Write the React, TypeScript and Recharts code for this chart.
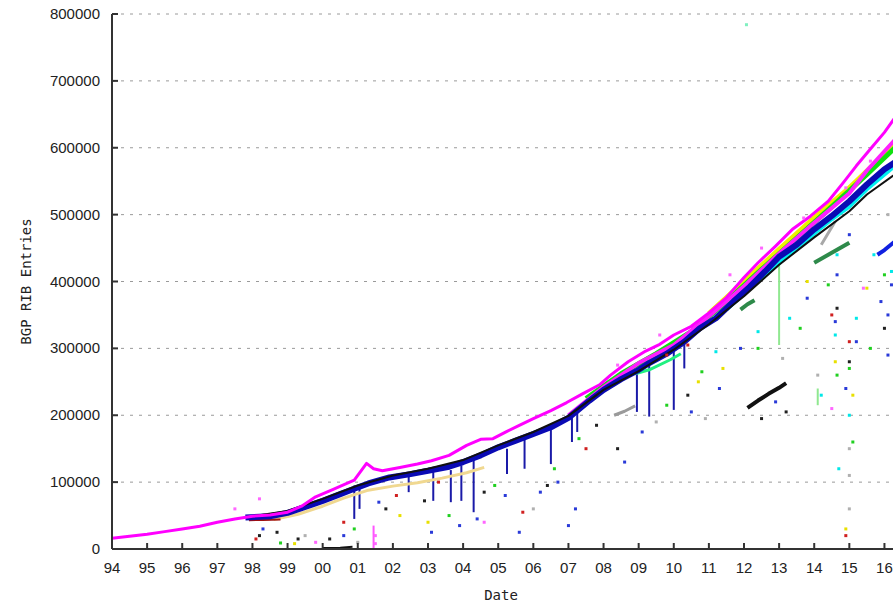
import { ComposedChart, Line, Scatter, XAxis, YAxis, CartesianGrid } from "recharts";

type P = [number, number];
type Dip = [number, number, number];

const yearTicks = [94, 95, 96, 97, 98, 99, 100, 101, 102, 103, 104, 105, 106, 107, 108, 109, 110, 111, 112, 113, 114, 115, 116];
const valueTicks = [0, 100000, 200000, 300000, 400000, 500000, 600000, 700000, 800000];

// main peer bands
const magentaUpper: P[] = [
  [94.0, 16000], [94.5, 19000], [95.0, 22000], [95.5, 26000], [96.0, 30000], [96.5, 34000],
  [97.0, 40000], [97.5, 45000], [98.0, 49000], [98.5, 51000], [99.0, 55000], [99.4, 64000],
  [99.8, 78000], [100.3, 89000], [100.9, 103000], [101.25, 128000], [101.45, 120000], [101.7, 117000],
  [102.2, 122000], [102.7, 127000], [103.1, 132000], [103.6, 140000], [104.1, 155000], [104.5, 164000],
  [104.85, 165000], [105.25, 176000], [105.6, 185000], [106.0, 195000], [106.5, 207000], [106.95, 219000],
  [107.4, 232000], [107.9, 246000], [108.2, 260000], [108.7, 280000], [109.2, 296000], [109.6, 306000],
  [110.0, 320000], [110.5, 333000], [111.0, 353000], [111.5, 376000], [112.0, 406000], [112.4, 428000],
  [112.9, 453000], [113.4, 479000], [113.9, 498000], [114.4, 520000], [114.8, 546000], [115.2, 573000],
  [115.6, 598000], [116.0, 623000], [116.3, 645000],
];
const magentaLower: P[] = [
  [107.0, 200000], [108.0, 242000], [109.0, 278000], [110.0, 305000], [111.0, 348000], [112.0, 393000],
  [113.0, 442000], [114.0, 488000], [115.0, 532000], [115.5, 566000], [116.3, 612000],
];
const blueBand: P[] = [
  [97.8, 47000], [98.5, 49000], [99.0, 54000], [99.4, 61000], [100.0, 72000], [100.5, 82000],
  [100.9, 90000], [101.3, 98000], [101.9, 107000], [102.5, 112000], [103.0, 117000], [103.6, 123000],
  [104.0, 130000], [104.5, 140000], [105.0, 152000], [105.5, 162000], [106.0, 172000], [106.5, 182000],
  [107.0, 196000], [107.6, 222000], [108.0, 238000], [108.5, 254000], [109.0, 268000], [109.3, 278000],
  [109.8, 292000], [110.3, 310000], [110.74, 330000], [111.2, 345000], [111.7, 370000], [112.16, 392000],
  [112.6, 415000], [113.0, 437000], [113.5, 455000], [114.0, 478000], [114.5, 498000], [115.0, 520000],
  [115.5, 545000], [116.0, 568000], [116.5, 585000],
];
const blackBand: P[] = [
  [98.0, 49000], [99.0, 57000], [100.0, 75000], [101.0, 95000], [102.0, 110000], [103.0, 120000],
  [104.0, 133000], [105.0, 155000], [106.0, 175000], [107.0, 199000], [108.0, 238000], [109.0, 266000],
  [110.0, 298000], [111.0, 336000], [112.0, 378000], [113.0, 425000], [114.0, 466000], [115.0, 505000],
  [115.5, 530000], [116.5, 568000],
];
const greenBand: P[] = [
  [107.5, 225000], [108.5, 262000], [109.5, 292000], [110.5, 325000], [111.5, 370000], [112.5, 418000],
  [113.5, 465000], [114.5, 512000], [115.5, 560000], [116.3, 600000],
];
const yellowBand: P[] = [
  [111.0, 352000], [112.0, 400000], [113.0, 448000], [114.0, 495000], [115.0, 540000], [116.3, 605000],
];
const cyanBand: P[] = [
  [111.5, 358000], [112.5, 405000], [113.5, 450000], [114.5, 493000], [115.0, 512000], [115.5, 538000],
  [116.3, 573000],
];
const tanBand: P[] = [
  [98.6, 44000], [99.3, 52000], [100.0, 64000], [100.6, 76000], [101.3, 88000], [102.0, 94000],
  [102.7, 99000], [103.4, 106000], [104.1, 114000], [104.6, 122000],
];

// short odd segments
const darkRedSeg: P[] = [[97.9, 43000], [98.3, 43500], [98.8, 44000]];
const lowBlackSeg: P[] = [[100.0, 1500], [100.5, 2000], [100.85, 3500]];
const graySeg: P[] = [[108.3, 200000], [108.6, 206000], [108.9, 214000]];
const springSeg: P[] = [[108.9, 262000], [109.3, 268000], [109.9, 283000], [110.2, 292000]];
const blackSeg: P[] = [[112.1, 211000], [112.4, 222000], [112.7, 232000], [113.0, 241000], [113.2, 248000]];
const darkGreenSeg1: P[] = [[111.9, 358000], [112.1, 366000], [112.3, 372000]];
const darkGreenSeg2: P[] = [[114.0, 428000], [114.4, 440000], [114.8, 452000], [115.0, 458000]];
const graySeg2: P[] = [[114.2, 455000], [114.35, 468000], [114.6, 490000]];
const blueSeg: P[] = [[115.8, 440000], [116.0, 447000], [116.3, 460000]];

// vertical drop-outs [year, top, bottom]
const dipsBlue: Dip[] = [
  [100.9, 95000, 45000], [101.05, 92000, 60000], [102.45, 110000, 85000], [103.15, 115000, 72000],
  [103.65, 118000, 70000], [103.95, 125000, 72000], [104.3, 135000, 55000], [105.25, 150000, 112000],
  [105.75, 165000, 120000], [106.5, 180000, 127000], [107.1, 196000, 160000], [107.25, 205000, 175000],
  [108.95, 262000, 205000], [109.3, 280000, 198000], [110.0, 298000, 208000], [110.3, 305000, 270000],
];
const dipsMagenta: Dip[] = [[101.45, 35000, 0]];
const dipsLightGreen: Dip[] = [[113.0, 430000, 305000], [114.1, 240000, 215000]];

// scattered points
const blueDots: P[] = [
  [98.3, 30000], [100.6, 20000], [101.6, 70000], [103.1, 25000], [103.9, 35000], [104.4, 45000],
  [105.2, 80000], [105.6, 25000], [106.2, 85000], [106.7, 100000], [107.0, 35000], [107.2, 60000],
  [108.6, 130000], [109.1, 175000], [110.5, 205000], [111.3, 240000], [111.9, 300000], [112.9, 220000],
  [113.8, 375000], [114.6, 340000], [115.2, 310000], [115.9, 370000], [116.2, 395000], [114.9, 240000],
  [116.1, 290000], [114.65, 410000], [115.0, 470000], [116.1, 350000],
];
const blackDots: P[] = [
  [98.2, 20000], [98.7, 25000], [99.3, 15000], [100.2, 15000], [101.8, 60000], [102.9, 72000],
  [104.6, 85000], [106.4, 95000], [107.8, 185000], [108.4, 150000], [110.4, 230000], [112.5, 195000],
  [113.2, 205000], [115.0, 280000], [116.0, 330000], [114.65, 360000],
];
const greenDots: P[] = [
  [98.8, 9000], [100.9, 30000], [103.6, 50000], [104.9, 95000], [106.6, 120000], [107.3, 165000],
  [109.8, 215000], [110.8, 265000], [112.4, 300000], [113.6, 330000], [114.4, 395000], [115.0, 270000],
  [115.1, 160000], [116.0, 410000], [115.6, 300000], [114.65, 260000],
];
const redDots: P[] = [
  [98.1, 15000], [100.6, 40000], [102.1, 80000], [103.3, 100000], [105.7, 55000], [107.5, 150000],
  [109.8, 290000], [110.4, 305000], [114.5, 350000], [115.0, 310000], [114.9, 20000],
];
const yellowDots: P[] = [
  [99.2, 8000], [102.2, 50000], [103.0, 40000], [110.7, 250000], [111.4, 270000], [113.8, 400000],
  [114.6, 280000], [115.5, 390000], [115.1, 230000], [114.9, 30000],
];
const cyanDots: P[] = [
  [111.2, 295000], [112.4, 325000], [113.3, 345000], [114.2, 230000], [114.6, 320000], [115.2, 345000],
  [115.7, 440000], [116.2, 415000], [115.0, 200000], [114.7, 120000], [114.65, 440000],
];
const grayDots: P[] = [
  [99.5, 20000], [101.0, 10000], [106.0, 60000], [109.5, 190000], [110.9, 195000], [113.1, 285000],
  [114.1, 260000], [115.0, 150000], [115.0, 110000], [116.1, 500000], [115.0, 60000],
];
const magentaDots: P[] = [
  [97.5, 60000], [98.2, 75000], [99.8, 10000], [101.5, 20000], [101.5, 8000], [104.6, 40000],
  [108.4, 275000], [109.6, 320000], [111.6, 410000], [112.5, 450000], [113.7, 495000], [114.9, 540000],
  [115.6, 580000], [115.4, 390000], [114.5, 210000],
];
const mintDots: P[] = [[112.07, 784000]];

const toPts = (a: P[]) => a.map(([x, y]) => ({ x, y }));
const fmtYear = (v: number) => String(v % 100).padStart(2, "0");

const AXIS = "#333";
const TICK_FONT = "'Liberation Sans', Arial, sans-serif";
const LABEL_FONT = "'DejaVu Sans Mono', monospace";

const BottomTick = ({ x, y, payload }: any) => (
  <g>
    <line x1={x} y1={y} x2={x} y2={y - 6} stroke={AXIS} strokeWidth={2} />
    <text x={x} y={y + 24} textAnchor="middle" fontSize={15} fontFamily={TICK_FONT} fill="#222">
      {fmtYear(payload.value)}
    </text>
  </g>
);

const TopTick = ({ x, y }: any) => (
  <line x1={x} y1={y} x2={x} y2={y + 6} stroke={AXIS} strokeWidth={2} />
);

const LeftTick = ({ x, y, payload }: any) => (
  <g>
    <line x1={x} y1={y} x2={x + 6} y2={y} stroke={AXIS} strokeWidth={2} />
    <text x={x - 12} y={y + 5} textAnchor="end" fontSize={15} fontFamily={TICK_FONT} fill="#222">
      {payload.value}
    </text>
  </g>
);

const pix = (s: number) => (props: any) => (
  <rect x={props.cx - s / 2} y={props.cy - s / 2} width={s} height={s} fill={props.fill} />
);

const band = (data: P[], color: string, width: number, key: string) => (
  <Line
    key={key}
    data={toPts(data)}
    dataKey="y"
    type="linear"
    stroke={color}
    strokeWidth={width}
    strokeLinejoin="round"
    dot={false}
    activeDot={false}
    isAnimationActive={false}
  />
);

const dipLines = (dips: Dip[], color: string, width: number, key: string) =>
  dips.map(([x, top, bottom], i) =>
    band([[x, top], [x, bottom]], color, width, `${key}-${i}`)
  );

const dots = (data: P[], color: string, size: number, key: string) => (
  <Scatter
    key={key}
    data={toPts(data)}
    dataKey="y"
    fill={color}
    shape={pix(size)}
    isAnimationActive={false}
  />
);

export default function App() {
  return (
    <div
      style={{
        position: "absolute",
        left: 0,
        top: 0,
        width: 893,
        height: 603,
        overflow: "hidden",
        background: "#fff",
      }}
    >
      <ComposedChart width={910} height={603} margin={{ top: 14, right: 8, bottom: 0, left: 0 }}>
        <CartesianGrid vertical={false} stroke="#9a9a9a" strokeDasharray="3 6" />
        <XAxis
          dataKey="x"
          type="number"
          domain={[94, 116.5]}
          ticks={yearTicks}
          interval={0}
          allowDataOverflow
          height={54}
          tickSize={0}
          tickMargin={0}
          tick={<BottomTick />}
          axisLine={{ stroke: AXIS, strokeWidth: 2 }}
          label={{
            value: "Date",
            position: "insideBottom",
            offset: 3,
            dx: -6,
            style: { fontFamily: LABEL_FONT, fontSize: 14, fill: "#222" },
          }}
        />
        <XAxis
          xAxisId="top"
          orientation="top"
          dataKey="x"
          type="number"
          domain={[94, 116.5]}
          ticks={yearTicks}
          interval={0}
          allowDataOverflow
          height={0}
          tickSize={0}
          tickMargin={0}
          tick={<TopTick />}
          axisLine={{ stroke: AXIS, strokeWidth: 2 }}
        />
        <YAxis
          type="number"
          domain={[0, 800000]}
          ticks={valueTicks}
          interval={0}
          allowDataOverflow
          width={112}
          tickSize={0}
          tickMargin={0}
          tick={<LeftTick />}
          axisLine={{ stroke: AXIS, strokeWidth: 2 }}
          label={{
            value: "BGP RIB Entries",
            angle: -90,
            position: "insideLeft",
            offset: 26,
            style: { fontFamily: LABEL_FONT, fontSize: 14, fill: "#222", textAnchor: "middle" },
          }}
        />

        {dipLines(dipsBlue, "#1a1aa8", 2, "dipB")}
        {dipLines(dipsMagenta, "#ff55ff", 2, "dipM")}
        {dipLines(dipsLightGreen, "#90e890", 2, "dipG")}

        {dots(grayDots, "#b0b0b0", 3, "gd")}
        {dots(yellowDots, "#e8e000", 3, "yd")}
        {dots(cyanDots, "#00e8e8", 3, "cd")}
        {dots(greenDots, "#20d020", 3, "grd")}
        {dots(redDots, "#d02020", 3, "rd")}
        {dots(blackDots, "#202020", 3, "bd")}
        {dots(blueDots, "#2a3ad8", 3, "bld")}
        {dots(magentaDots, "#ff66ff", 3, "md")}
        {dots(mintDots, "#80f0c0", 3, "mint")}

        {band(tanBand, "#f0d890", 3, "tan")}
        {band(darkRedSeg, "#a01010", 2, "dred")}
        {band(lowBlackSeg, "#111", 2, "lowb")}
        {band(graySeg, "#9a9a9a", 3, "gray1")}
        {band(springSeg, "#20f080", 3, "spring")}
        {band(blackSeg, "#111", 4, "blackseg")}
        {band(darkGreenSeg1, "#2e8a4a", 4, "dg1")}
        {band(darkGreenSeg2, "#2e8a4a", 4, "dg2")}
        {band(graySeg2, "#a8a8a8", 3, "gray2")}
        {band(blueSeg, "#1020e0", 4, "blueseg")}

        {band(yellowBand, "#f0f000", 5, "yellow")}
        {band(greenBand, "#10e010", 5, "green")}
        {band(magentaLower, "#ff20ff", 4, "magLow")}
        {band(cyanBand, "#00f0f0", 4, "cyan")}
        {band(blueBand, "#0a0ab4", 6, "blue")}
        {band(blackBand, "#101010", 2, "black")}
        {band(magentaUpper, "#ff00ff", 3, "magUp")}
      </ComposedChart>
    </div>
  );
}
